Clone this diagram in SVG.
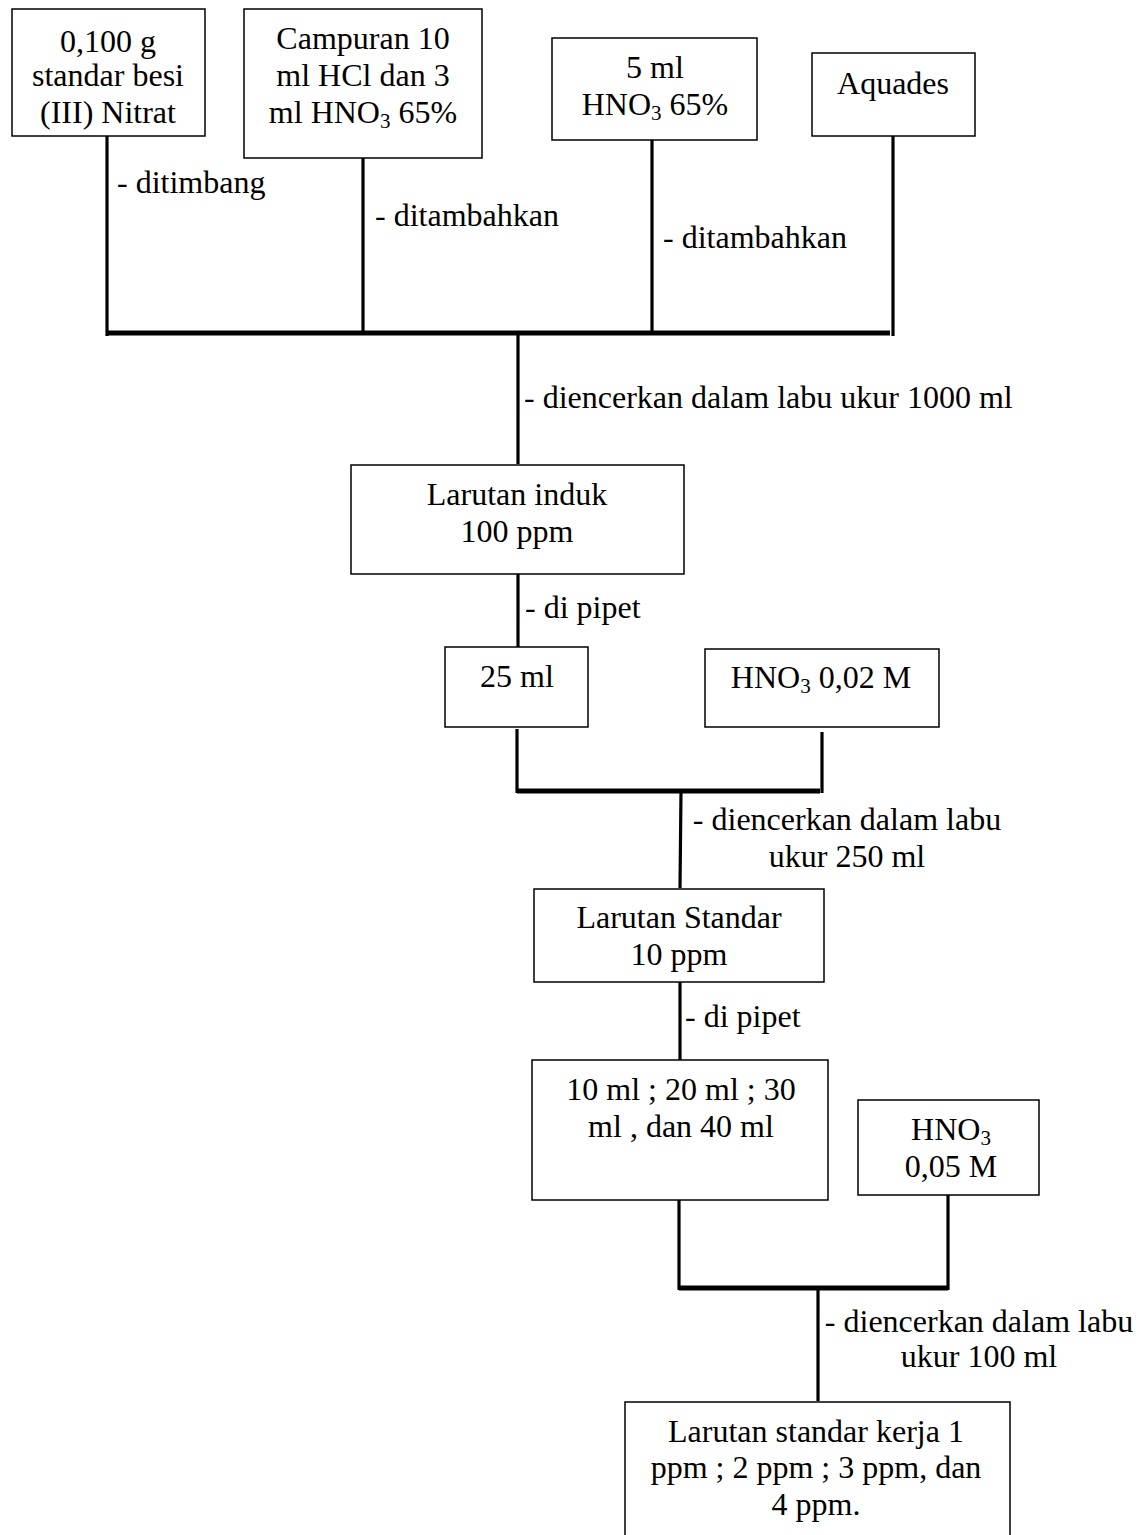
<svg xmlns="http://www.w3.org/2000/svg" width="1147" height="1535" viewBox="0 0 1147 1535">
<style>
text{font-family:"Liberation Serif","Times New Roman",serif;font-size:32px;fill:#000}
.c{text-anchor:middle}
.box{fill:#fff;stroke:#000;stroke-width:1.5}
.ln{stroke:#000;stroke-width:3.2;fill:none}
.bar{stroke:#000;stroke-width:5;fill:none}
.sub{font-size:21px}
</style>
<rect width="1147" height="1535" fill="#fff"/>
<g id="connectors">
<line class="ln" x1="107" y1="136" x2="107" y2="336"/>
<line class="ln" x1="363" y1="158" x2="363" y2="333"/>
<line class="ln" x1="652" y1="140" x2="652" y2="333"/>
<line class="ln" x1="893" y1="136" x2="893" y2="336"/>
<line class="bar" x1="108" y1="333" x2="890" y2="333"/>
<line class="ln" x1="518" y1="333" x2="518" y2="464"/>
<line class="ln" x1="518" y1="574" x2="518" y2="647"/>
<line class="ln" x1="517" y1="729" x2="517" y2="793"/>
<line class="ln" x1="822" y1="732" x2="822" y2="793"/>
<line class="bar" x1="517" y1="791" x2="820" y2="791"/>
<line class="ln" x1="681" y1="791" x2="680" y2="888"/>
<line class="ln" x1="680" y1="982" x2="680" y2="1060"/>
<line class="ln" x1="679" y1="1200" x2="679" y2="1290"/>
<line class="ln" x1="948" y1="1195" x2="948" y2="1290"/>
<line class="bar" x1="679" y1="1288" x2="948" y2="1288"/>
<line class="ln" x1="818" y1="1286" x2="818" y2="1401"/>
<text x="117" y="193">- ditimbang</text>
<text x="375" y="226">- ditambahkan</text>
<text x="663" y="248">- ditambahkan</text>
<text x="524" y="408">- diencerkan dalam labu ukur 1000 ml</text>
<text x="525" y="618">- di pipet</text>
<text x="847" y="830" class="c">- diencerkan dalam labu</text>
<text x="847" y="867" class="c">ukur 250 ml</text>
<text x="685" y="1027">- di pipet</text>
<text x="979" y="1332" class="c">- diencerkan dalam labu</text>
<text x="979" y="1367" class="c">ukur 100 ml</text>
</g>
<g id="n1">
<rect class="box" x="12" y="9" width="193" height="127"/>
<text x="108" y="52" class="c">0,100 g</text>
<text x="108" y="86" class="c">standar besi</text>
<text x="108" y="123" class="c">(III) Nitrat</text>
</g>
<g id="n2">
<rect class="box" x="244" y="9" width="238" height="149"/>
<text x="363" y="49" class="c">Campuran 10</text>
<text x="363" y="86" class="c">ml HCl dan 3</text>
<text x="363" y="123" class="c">ml HNO<tspan class="sub" dy="5">3</tspan><tspan dy="-5"> 65%</tspan></text>
</g>
<g id="n3">
<rect class="box" x="552" y="38" width="205" height="102"/>
<text x="655" y="78" class="c">5 ml</text>
<text x="655" y="115" class="c">HNO<tspan class="sub" dy="5">3</tspan><tspan dy="-5"> 65%</tspan></text>
</g>
<g id="n4">
<rect class="box" x="812" y="53" width="163" height="83"/>
<text x="893" y="94" class="c">Aquades</text>
</g>
<g id="n5">
<rect class="box" x="351" y="465" width="333" height="109"/>
<text x="517" y="505" class="c">Larutan induk</text>
<text x="517" y="542" class="c">100 ppm</text>
</g>
<g id="n6">
<rect class="box" x="445" y="647" width="143" height="80"/>
<text x="517" y="687" class="c">25 ml</text>
</g>
<g id="n7">
<rect class="box" x="705" y="649" width="234" height="78"/>
<text x="821" y="688" class="c">HNO<tspan class="sub" dy="5">3</tspan><tspan dy="-5"> 0,02 M</tspan></text>
</g>
<g id="n8">
<rect class="box" x="534" y="889" width="290" height="93"/>
<text x="679" y="928" class="c">Larutan Standar</text>
<text x="679" y="965" class="c">10 ppm</text>
</g>
<g id="n9">
<rect class="box" x="532" y="1060" width="296" height="140"/>
<text x="681" y="1100" class="c">10 ml ; 20 ml ; 30</text>
<text x="681" y="1137" class="c">ml , dan 40 ml</text>
</g>
<g id="n10">
<rect class="box" x="858" y="1100" width="181" height="95"/>
<text x="951" y="1140" class="c">HNO<tspan class="sub" dy="5">3</tspan></text>
<text x="951" y="1177" class="c">0,05 M</text>
</g>
<g id="n11">
<rect class="box" x="625" y="1402" width="385" height="150"/>
<text x="816" y="1442" class="c">Larutan standar kerja 1</text>
<text x="816" y="1478" class="c">ppm ; 2 ppm ; 3 ppm, dan</text>
<text x="816" y="1515" class="c">4 ppm.</text>
</g>
</svg>
